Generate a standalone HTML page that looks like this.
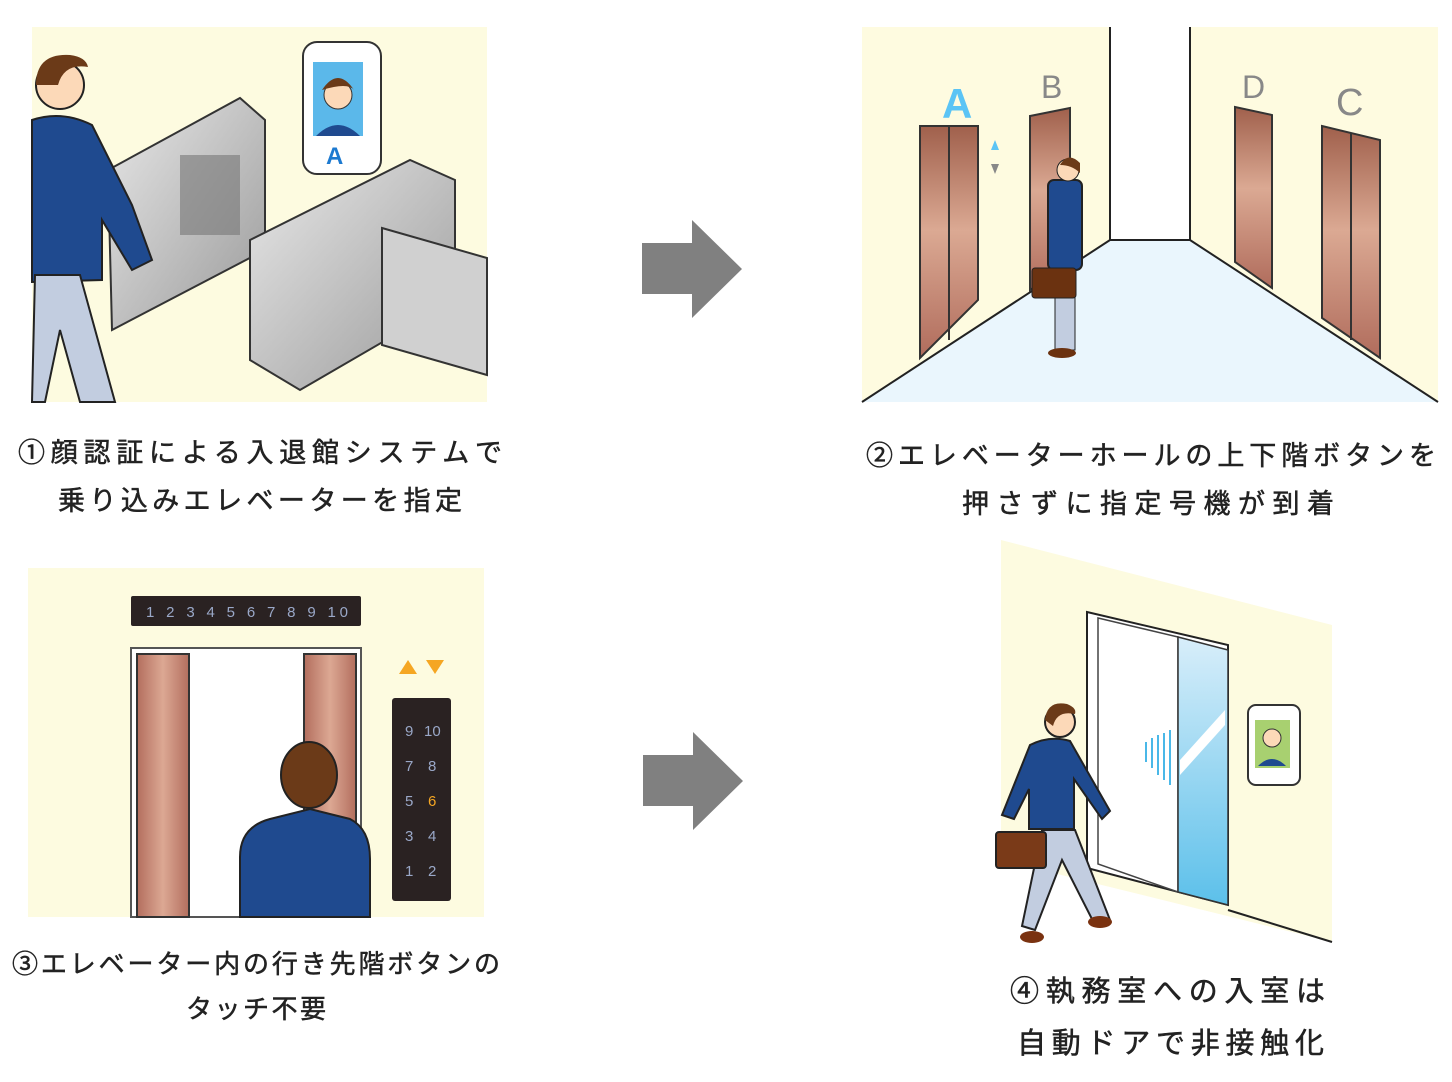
<!DOCTYPE html>
<html><head><meta charset="utf-8"><style>
html,body{margin:0;padding:0;background:#fff;width:1452px;height:1082px;overflow:hidden}
svg text{font-family:"Liberation Sans","Noto Sans CJK JP",sans-serif;fill:#222}
.cap text{stroke:#222;stroke-width:0.5}
</style></head><body>
<svg width="1452" height="1082" viewBox="0 0 1452 1082" xmlns="http://www.w3.org/2000/svg">
<defs>
<linearGradient id="cu" x1="0" y1="0" x2="0" y2="1"><stop offset="0" stop-color="#a0604c"/><stop offset="0.45" stop-color="#dba993"/><stop offset="1" stop-color="#b06c5c"/></linearGradient>
<linearGradient id="cuh" x1="0" y1="0" x2="1" y2="0"><stop offset="0" stop-color="#b36e5e"/><stop offset="0.5" stop-color="#dca893"/><stop offset="1" stop-color="#b36e5e"/></linearGradient>
<linearGradient id="met" x1="0" y1="0" x2="1" y2="1"><stop offset="0" stop-color="#e8e8e8"/><stop offset="1" stop-color="#9a9a9a"/></linearGradient>
<linearGradient id="gl" x1="0" y1="0" x2="0" y2="1"><stop offset="0" stop-color="#d8eefa"/><stop offset="1" stop-color="#5cc0ea"/></linearGradient>
</defs>

<rect x="32" y="27" width="455" height="375" fill="#fdfbe0"/>
<polygon points="108,170 240,98 265,120 265,250 112,330" fill="url(#met)" stroke="#333" stroke-width="2"/>
<rect x="180" y="155" width="60" height="80" fill="#777" opacity="0.6"/>
<polygon points="250,240 410,160 455,180 455,300 300,390 250,360" fill="url(#met)" stroke="#333" stroke-width="2"/>
<polygon points="382,228 487,258 487,375 382,345" fill="#d0d0d0" stroke="#333" stroke-width="2"/>
<rect x="303" y="42" width="78" height="132" rx="14" fill="#fff" stroke="#333" stroke-width="2"/>
<rect x="313" y="62" width="50" height="74" fill="#5bb8ea"/>
<circle cx="338" cy="95" r="14" fill="#fcd9b8" stroke="#333"/>
<path d="M322,90 q16,-24 32,0 q-6,-8 -32,0z" fill="#6b3a18"/>
<path d="M316,136 q22,-22 44,0z" fill="#1f4a8f"/>
<text x="326" y="164" font-size="24" font-weight="bold" style="fill:#1d7ad0">A</text>
<path d="M32,120 q30,-10 60,5 l40,80 l20,55 l-20,10 l-30,-50 l0,60 l-70,2z" fill="#1f4a8f" stroke="#222" stroke-width="2"/>
<circle cx="60" cy="85" r="24" fill="#fcd9b8" stroke="#222" stroke-width="2"/>
<path d="M36,85 q0,-32 34,-30 q16,2 18,12 q-24,-4 -30,18z" fill="#6b3a18"/>
<polygon points="35,275 80,275 115,402 80,402 60,330 45,402 32,402" fill="#c2cde0" stroke="#222" stroke-width="2"/>

<polygon points="642,243 692,243 692,220 742,269 692,318 692,294 642,294" fill="#808080"/>
<polygon points="643,755 693,755 693,732 743,781 693,830 693,806 643,806" fill="#808080"/>

<rect x="862" y="27" width="576" height="375" fill="#fefbe0"/>
<rect x="1110" y="27" width="80" height="213" fill="#fff"/>
<polygon points="862,402 1110,240 1190,240 1438,402" fill="#eaf6fd"/>
<path d="M862,402 L1110,240 L1190,240 L1438,402 M1110,27 V240 M1190,27 V240" stroke="#222" stroke-width="2" fill="none"/>
<polygon points="920,126 978,126 978,300 920,358" fill="url(#cu)" stroke="#333" stroke-width="2"/>
<line x1="949" y1="126" x2="949" y2="340" stroke="#333" stroke-width="2"/>
<polygon points="1030,116 1070,108 1070,260 1030,290" fill="url(#cu)" stroke="#333" stroke-width="2"/>
<polygon points="1235,107 1272,115 1272,288 1235,262" fill="url(#cu)" stroke="#333" stroke-width="2"/>
<polygon points="1322,126 1380,140 1380,358 1322,318" fill="url(#cu)" stroke="#333" stroke-width="2"/>
<line x1="1351" y1="133" x2="1351" y2="340" stroke="#333" stroke-width="2"/>
<text x="942" y="118" font-size="42" font-weight="bold" style="fill:#5bc4f5">A</text>
<text x="1041" y="98" font-size="32" style="fill:#888">B</text>
<text x="1242" y="98" font-size="32" style="fill:#888">D</text>
<text x="1336" y="115" font-size="38" style="fill:#888">C</text>
<polygon points="991,150 995,140 999,150" fill="#5bc4f5"/><polygon points="991,164 999,164 995,174" fill="#888"/>
<rect x="1048" y="180" width="34" height="90" rx="6" fill="#1f4a8f" stroke="#222" stroke-width="2"/>
<circle cx="1068" cy="170" r="11" fill="#fcd9b8" stroke="#222"/>
<path d="M1060,165 q8,-14 20,-2 v10 q-8,-8 -20,-8z" fill="#6b3a18"/>
<rect x="1055" y="270" width="20" height="80" fill="#c2cde0" stroke="#222"/>
<rect x="1032" y="268" width="44" height="30" rx="3" fill="#6b3210" stroke="#222"/>
<ellipse cx="1062" cy="353" rx="14" ry="5" fill="#6b3210"/>

<rect x="28" y="568" width="456" height="349" fill="#fdfbe0"/>
<rect x="131" y="596" width="230" height="30" rx="2" fill="#2a2222"/>
<text x="146" y="617" font-size="15" style="fill:#9aa8c8" textLength="202">1 2 3 4 5 6 7 8 9 10</text>
<rect x="131" y="648" width="230" height="269" fill="#fff" stroke="#555" stroke-width="2"/>
<rect x="137" y="654" width="52" height="263" fill="url(#cuh)" stroke="#333" stroke-width="2"/>
<rect x="304" y="654" width="52" height="263" fill="url(#cuh)" stroke="#333" stroke-width="2"/>
<polygon points="399,674 408,660 417,674" fill="#f5a623"/><polygon points="426,660 444,660 435,674" fill="#f5a623"/>
<rect x="392" y="698" width="59" height="203" rx="3" fill="#2a2222"/>
<g font-size="15">
<text x="405" y="736" style="fill:#9aa8c8">9</text><text x="424" y="736" style="fill:#9aa8c8">10</text>
<text x="405" y="771" style="fill:#9aa8c8">7</text><text x="428" y="771" style="fill:#9aa8c8">8</text>
<text x="405" y="806" style="fill:#9aa8c8">5</text><text x="428" y="806" style="fill:#f5a623">6</text>
<text x="405" y="841" style="fill:#9aa8c8">3</text><text x="428" y="841" style="fill:#9aa8c8">4</text>
<text x="405" y="876" style="fill:#9aa8c8">1</text><text x="428" y="876" style="fill:#9aa8c8">2</text>
</g>
<path d="M240,917 v-60 q0,-30 30,-38 l40,-10 l40,10 q20,10 20,40 v58z" fill="#1f4a8f" stroke="#222" stroke-width="2"/>
<ellipse cx="309" cy="775" rx="28" ry="33" fill="#6b3a18" stroke="#222" stroke-width="2"/>

<polygon points="1001,540 1332,625 1332,942 1001,860" fill="#fdfbe0"/>
<line x1="1228" y1="910" x2="1332" y2="942" stroke="#222" stroke-width="2"/>
<polygon points="1087,612 1228,645 1228,905 1087,868" fill="#fff" stroke="#222" stroke-width="2"/>
<polygon points="1098,618 1178,637 1178,892 1098,864" fill="#fff" stroke="#444" stroke-width="1.5"/>
<polygon points="1178,637 1228,650 1228,905 1178,892" fill="url(#gl)" stroke="#333" stroke-width="1.5"/>
<polygon points="1180,760 1225,710 1225,725 1180,775" fill="#fff"/>
<g stroke="#4ab8e8" stroke-width="2"><line x1="1146" y1="742" x2="1146" y2="762"/><line x1="1152" y1="738" x2="1152" y2="768"/><line x1="1158" y1="735" x2="1158" y2="775"/><line x1="1164" y1="733" x2="1164" y2="780"/><line x1="1170" y1="730" x2="1170" y2="785"/></g>
<rect x="1248" y="705" width="52" height="80" rx="8" fill="#fff" stroke="#333" stroke-width="2"/>
<rect x="1255" y="720" width="35" height="48" fill="#a8d070"/>
<circle cx="1272" cy="738" r="9" fill="#fcd9b8" stroke="#333"/>
<path d="M1258,766 q14,-14 28,0z" fill="#1f4a8f"/>
<path d="M1030,745 q20,-10 40,-4 l40,70 l-8,8 l-28,-40 l0,50 l-45,0 l0,-40 l-15,30 l-12,-4z" fill="#1f4a8f" stroke="#222" stroke-width="2"/>
<circle cx="1060" cy="722" r="15" fill="#fcd9b8" stroke="#222" stroke-width="2"/>
<path d="M1045,720 q2,-20 22,-16 q10,4 8,10 q-18,-4 -22,12z" fill="#6b3a18"/>
<polygon points="1042,830 1075,830 1110,920 1095,925 1062,860 1035,930 1022,926" fill="#c2cde0" stroke="#222" stroke-width="2"/>
<rect x="996" y="832" width="50" height="36" rx="3" fill="#7a3a18" stroke="#222" stroke-width="2"/>
<ellipse cx="1032" cy="937" rx="12" ry="6" fill="#7a3210"/><ellipse cx="1100" cy="922" rx="12" ry="6" fill="#7a3210"/>

<g font-size="27" class="cap">
<text x="18" y="462" textLength="484" lengthAdjust="spacing">①顔認証による入退館システムで</text>
<text x="58" y="510" textLength="404" lengthAdjust="spacing">乗り込みエレベーターを指定</text>
<text x="866" y="465" textLength="570" lengthAdjust="spacing">②エレベーターホールの上下階ボタンを</text>
<text x="962" y="513" textLength="372" lengthAdjust="spacing">押さずに指定号機が到着</text>
<text x="12" y="973" font-size="26" textLength="488" lengthAdjust="spacing">③エレベーター内の行き先階ボタンの</text>
<text x="186" y="1018" font-size="26" textLength="140" lengthAdjust="spacing">タッチ不要</text>
<text x="1010" y="1001" font-size="29" textLength="315" lengthAdjust="spacing">④執務室への入室は</text>
<text x="1017" y="1053" font-size="29" textLength="307" lengthAdjust="spacing">自動ドアで非接触化</text>
</g>
</svg>
</body></html>
